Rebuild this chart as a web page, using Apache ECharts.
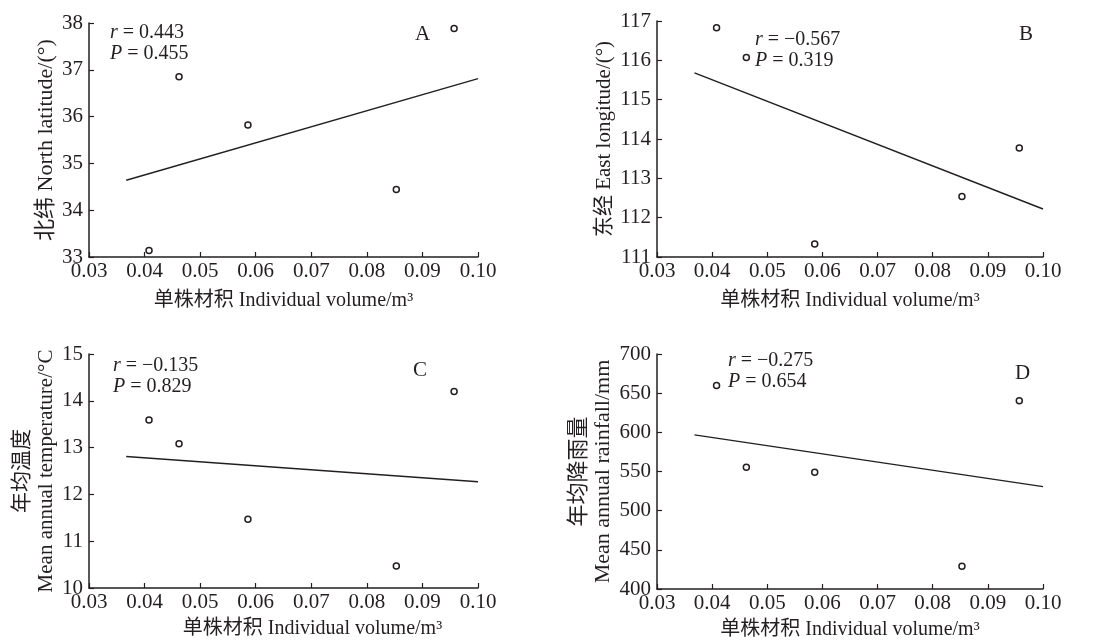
<!DOCTYPE html>
<html>
<head>
<meta charset="utf-8">
<script src="https://cdn.jsdelivr.net/npm/echarts@6/dist/echarts.min.js"></script>
<style>
html,body{margin:0;padding:0;background:#fff;}
#c{width:1103px;height:641px;}
</style>
</head>
<body>
<div id="c"></div>
<script>
// ---- data ----
const volume = [0.0408, 0.0462, 0.0586, 0.0853, 0.0957];
const latitude = [33.14, 36.85, 35.82, 34.44, 37.88];
const longitude = [116.83, 116.07, 111.33, 112.54, 113.77];
const temperature = [13.59, 13.08, 11.47, 10.47, 14.20];
const rainfall = [659.8, 555.3, 549.0, 429.2, 640.3];
// fitted line end points (x, y)
const fitA = [[0.0367, 34.64], [0.10, 36.81]];
const fitB = [[0.0368, 115.68], [0.10, 112.22]];
const fitC = [[0.0367, 12.81], [0.10, 12.27]];
const fitD = [[0.0368, 596.7], [0.10, 530.7]];
const stats = [
  {r: '0.443', p: '0.455'},
  {r: '\u22120.567', p: '0.319'},
  {r: '\u22120.135', p: '0.829'},
  {r: '\u22120.275', p: '0.654'}
];
const panelLetters = ['A', 'B', 'C', 'D'];
const xTitle = '单株材积 Individual volume/m\u00B3';
const yTitles = ['北纬 North latitude/(°)', '东经 East longitude/(°)', '年均温度\nMean annual temperature/°C', '年均降雨量\nMean annual rainfall/mm'];
const yRanges = [[33, 38, 1], [111, 117, 1], [10, 15, 1], [400, 700, 50]];
const xRange = [0.03, 0.10, 0.01];

const FONT = "'Liberation Serif', 'Noto Sans CJK SC', serif";
const INK = '#231f20';

const grids = [
  {left: 89, right: 625, top: 23, bottom: 384},
  {left: 657, right: 60, top: 21, bottom: 384},
  {left: 89, right: 625, top: 354, bottom: 53},
  {left: 657, right: 60, top: 354, bottom: 50}
];
const yNameGaps = [27, 37, 31, 37];
const yNameSizes = [22, 21, 21, 22];
const xNameGaps = [34, 34, 31, 31];
const xNamePad = [[0,0,0,0],[0,0,0,0],[0,0,0,58],[0,0,0,0]];

const ys = [latitude, longitude, temperature, rainfall];
const fits = [fitA, fitB, fitC, fitD];

const xAxis = grids.map((g, i) => ({
  type: 'value', gridIndex: i, min: xRange[0], max: xRange[1], interval: xRange[2],
  name: xTitle, nameLocation: 'middle', nameGap: xNameGaps[i],
  nameTextStyle: {fontFamily: FONT, fontSize: 20, color: INK, padding: xNamePad[i]},
  axisLine: {lineStyle: {color: INK, width: 1.5}},
  axisTick: {inside: true, length: 5, lineStyle: {color: INK, width: 1.2}},
  axisLabel: {fontFamily: FONT, fontSize: 21, color: INK, margin: 4,
    formatter: v => Number(v).toFixed(2)},
  splitLine: {show: false}
}));
const yAxis = grids.map((g, i) => ({
  type: 'value', gridIndex: i, min: yRanges[i][0], max: yRanges[i][1], interval: yRanges[i][2],
  name: yTitles[i], nameLocation: 'middle', nameGap: yNameGaps[i], nameRotate: 90,
  nameTextStyle: {fontFamily: FONT, fontSize: yNameSizes[i], color: INK, lineHeight: 24},
  axisLine: {show: true, lineStyle: {color: INK, width: 1.5}},
  axisTick: {show: true, inside: true, length: 5, lineStyle: {color: INK, width: 1.2}},
  axisLabel: {fontFamily: FONT, fontSize: 21, color: INK, margin: 6},
  splitLine: {show: false}
}));

const series = [];
ys.forEach((yv, i) => {
  series.push({
    type: 'line', xAxisIndex: i, yAxisIndex: i, data: fits[i], showSymbol: false,
    lineStyle: {color: INK, width: 1.4}, silent: true, animation: false
  });
  series.push({
    type: 'scatter', xAxisIndex: i, yAxisIndex: i,
    data: volume.map((x, k) => [x, yv[k]]),
    symbol: 'circle', symbolSize: 6,
    itemStyle: {color: '#fff', borderColor: INK, borderWidth: 1.5, opacity: 1},
    animation: false
  });
});

const statPos = [[110, 22], [755, 29], [113, 355], [728, 350]];
const letterPos = [[415, 24], [1019, 24], [413, 360], [1015, 363]];
const richStyle = {
  i: {fontFamily: FONT, fontStyle: 'italic', fontSize: 20, color: INK, lineHeight: 21},
  n: {fontFamily: FONT, fontSize: 20, color: INK, lineHeight: 21}
};
const titles = [];
stats.forEach((s, i) => {
  titles.push({
    text: '{i|r}{n| = ' + s.r + '}\n{i|P}{n| = ' + s.p + '}',
    left: statPos[i][0], top: statPos[i][1], padding: 0,
    textStyle: {rich: richStyle, fontFamily: FONT, fontSize: 20, color: INK, fontWeight: 'normal', lineHeight: 21}
  });
  titles.push({
    text: panelLetters[i], left: letterPos[i][0], top: letterPos[i][1], padding: 0,
    textStyle: {fontFamily: FONT, fontSize: 21, color: INK, fontWeight: 'normal'}
  });
});

const chart = echarts.init(document.getElementById('c'), null, {renderer: 'canvas'});
chart.setOption({
  backgroundColor: '#fff',
  animation: false,
  title: titles,
  grid: grids,
  xAxis: xAxis,
  yAxis: yAxis,
  series: series
});
</script>
</body>
</html>
